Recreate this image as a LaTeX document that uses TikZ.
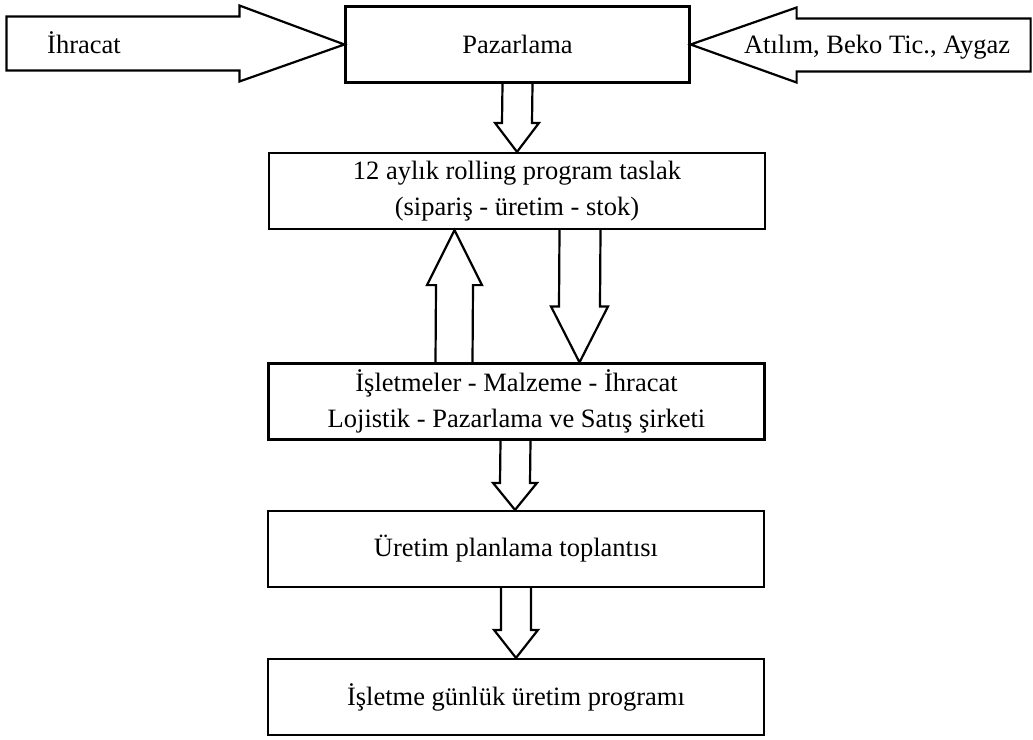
\documentclass[tikz,border=0pt]{standalone}
\usepackage{fontspec}
\setmainfont{Liberation Serif}
\usetikzlibrary{calc}

% vertical block arrow pointing down: from the bottom of #1 to the top of #2
% #3 horizontal offset, #4 half shaft width, #5 half head width, #6 head length
\newcommand{\blkdown}[6]{%
  \draw[blk] ($(#1.south)+(#3-#4,0)$) -- ($(#2.north)+(#3-#4,-#6)$)
    -- ($(#2.north)+(#3-#5,-#6)$) -- ($(#2.north)+(#3,0)$)
    -- ($(#2.north)+(#3+#5,-#6)$) -- ($(#2.north)+(#3+#4,-#6)$)
    -- ($(#1.south)+(#3+#4,0)$);}
% vertical block arrow pointing up: from the top of #2 to the bottom of #1
\newcommand{\blkup}[6]{%
  \draw[blk] ($(#2.north)+(#3-#4,0)$) -- ($(#1.south)+(#3-#4,#6)$)
    -- ($(#1.south)+(#3-#5,#6)$) -- ($(#1.south)+(#3,0)$)
    -- ($(#1.south)+(#3+#5,#6)$) -- ($(#1.south)+(#3+#4,#6)$)
    -- ($(#2.north)+(#3+#4,0)$);}

\begin{document}
\begin{tikzpicture}[x=1pt,y=-1pt,
  every node/.style={font=\fontsize{26.5}{36}\selectfont},
  box/.style={draw,line width=2.2pt,minimum width=496pt,minimum height=76pt,
    align=center,inner sep=0pt},
  blk/.style={draw,line width=2.2pt,line join=miter}]
  \useasboundingbox (0,0) rectangle (1033,739);

  % boxes
  \node[box,minimum width=344pt] (paz) at (517.5,44.5) {Pazarlama};
  \node[box] (tas) at (517,191) {12 aylık rolling program taslak\\(sipariş - üretim - stok)};
  \node[box] (isl) at (516.5,401.5) {İşletmeler - Malzeme - İhracat\\Lojistik - Pazarlama ve Satış şirketi};
  \node[box] (ure) at (516,549) {Üretim planlama toplantısı};
  \node[box] (gun) at (516,697) {İşletme günlük üretim programı};

  % side inputs
  \node (ihr) at (84,43) {İhracat};
  \node (atl) at (877,47) {Atılım, Beko Tic., Aygaz};

  \draw[blk] ($(paz.west)+(-338,-28)$) -- ($(paz.west)+(-105,-28)$)
    -- ($(paz.west)+(-105,-39)$) -- (paz.west) -- ($(paz.west)+(-105,37)$)
    -- ($(paz.west)+(-105,26)$) -- ($(paz.west)+(-338,26)$) -- cycle;
  \draw[blk] ($(paz.east)+(340,-26)$) -- ($(paz.east)+(106,-26)$)
    -- ($(paz.east)+(106,-37)$) -- (paz.east) -- ($(paz.east)+(106,38)$)
    -- ($(paz.east)+(106,27)$) -- ($(paz.east)+(340,27)$) -- cycle;

  % flow between boxes
  \blkdown{paz}{tas}{0}{15}{22}{29}
  \blkup{tas}{isl}{-62.5}{18.5}{27.5}{55}
  \blkdown{tas}{isl}{63}{20.5}{28.5}{56}
  \blkdown{isl}{ure}{-1}{15}{22}{27}
  \blkdown{ure}{gun}{0}{15}{22}{28}
\end{tikzpicture}
\end{document}
